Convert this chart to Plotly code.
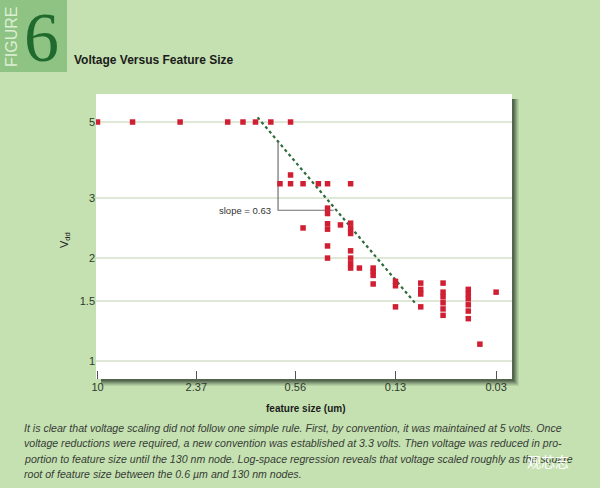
import numpy as np
import plotly.graph_objects as go

# ---------------- data ----------------
feature_um = [10, 6, 3, 1.5, 1.2, 1.0, 0.8, 0.6,
              0.7, 0.6, 0.5, 0.4, 0.35, 0.25,
              0.6,
              0.35, 0.35, 0.35, 0.35, 0.35, 0.35,
              0.5, 0.29,
              0.25, 0.25, 0.25, 0.25, 0.25, 0.25, 0.25,
              0.22,
              0.18, 0.18, 0.18, 0.18,
              0.13, 0.13, 0.13,
              0.09, 0.09, 0.09, 0.09,
              0.065, 0.065, 0.065, 0.065, 0.065, 0.065,
              0.045, 0.045, 0.045, 0.045, 0.045, 0.045,
              0.038, 0.03]
vdd_v = [5, 5, 5, 5, 5, 5, 5, 5,
         3.3, 3.3, 3.3, 3.3, 3.3, 3.3,
         3.5,
         2.8, 2.7, 2.52, 2.43, 2.17, 2.0,
         2.45, 2.5,
         2.53, 2.44, 2.36, 2.1, 2.0, 1.93, 1.87,
         1.87,
         1.87, 1.83, 1.78, 1.68,
         1.71, 1.66, 1.44,
         1.69, 1.62, 1.57, 1.44,
         1.69, 1.59, 1.54, 1.48, 1.42, 1.36,
         1.62, 1.57, 1.52, 1.46, 1.40, 1.33,
         1.12, 1.59]

fit_x = [0.97, 0.098]
fit_y = [5.16, 1.48]
tri_x = [0.72, 0.72, 0.32]
tri_y = [4.38, 2.76, 2.76]
slope_label = "slope = 0.63"

x_ticks = [10, 2.37, 0.56, 0.13, 0.03]
x_tick_text = ["10", "2.37", "0.56", "0.13", "0.03"]
y_ticks = [1, 1.5, 2, 3, 5]
y_tick_text = ["1", "1.5", "2", "3", "5"]

caption_lines = [
    "It is clear that voltage scaling did not follow one simple rule. First, by convention, it was maintained at 5 volts. Once",
    "voltage reductions were required, a new convention was established at 3.3 volts. Then voltage was reduced in pro-",
    "portion to feature size until the 130 nm node. Log-space regression reveals that voltage scaled roughly as the square",
    "root of feature size between the 0.6 \u00b5m and 130 nm nodes.",
]

# ---------------- layout geometry ----------------
W, H = 600, 488
L, R, T, B = 96, 512, 94, 379
PW, PH = R - L, B - T


def px(x):
    return (x - L) / PW


def py(y):
    return (B - y) / PH


BG = "#c5e1b1"
BOX = "#8fc383"
TXT = "#2e3a2e"
SANS = "Liberation Sans, Arial, sans-serif"

fig = go.Figure()
fig.add_trace(go.Scatter(x=fit_x, y=fit_y, mode="lines",
                         line=dict(color="#2f6b3a", width=2.2, dash="dot"),
                         hoverinfo="skip", showlegend=False))
fig.add_trace(go.Scatter(x=tri_x, y=tri_y, mode="lines",
                         line=dict(color="#707070", width=1.2),
                         hoverinfo="skip", showlegend=False))
fig.add_trace(go.Scatter(x=feature_um, y=vdd_v, mode="markers",
                         marker=dict(symbol="square", size=5.5, color="#d01f32"),
                         showlegend=False))

shapes = []
# drop shadow of plot panel
for k, op in [(7, 0.10), (6, 0.12), (5, 0.15), (4, 0.2), (3, 0.25), (2, 0.3)]:
    shapes.append(dict(type="rect", xref="paper", yref="paper", layer="below",
                       x0=px(L + 5), x1=px(R + k), y0=py(B + k), y1=py(T + 5),
                       fillcolor=f"rgba(40,55,40,{op})", line=dict(width=0)))
shapes.append(dict(type="rect", xref="paper", yref="paper", layer="below",
                   x0=0, x1=1, y0=0, y1=1, fillcolor="white", line=dict(width=0)))
# FIGURE box
shapes.append(dict(type="rect", xref="paper", yref="paper", layer="below",
                   x0=px(0), x1=px(67), y0=py(72), y1=py(0),
                   fillcolor=BOX, line=dict(width=0)))

ann = []
ann.append(dict(xref="paper", yref="paper", x=px(11), y=py(37), text="FIGURE",
                textangle=-90, showarrow=False, xanchor="center", yanchor="middle",
                font=dict(family=SANS, size=16, color="#dcefd3")))
ann.append(dict(xref="paper", yref="paper", x=px(42), y=py(37), text="6",
                showarrow=False, xanchor="center", yanchor="middle",
                font=dict(family="Liberation Serif, DejaVu Serif, serif", size=70, color="#1f6a2c")))
ann.append(dict(xref="paper", yref="paper", x=px(72), y=py(60),
                text="<b>Voltage Versus Feature Size</b>", showarrow=False,
                xanchor="left", yanchor="middle",
                font=dict(family=SANS, size=12, color="#1b1b1b")))
ann.append(dict(xref="paper", yref="paper", x=px(65), y=py(240),
                text="V<sub>dd</sub>", textangle=-90, showarrow=False,
                xanchor="center", yanchor="middle",
                font=dict(family=SANS, size=11, color="#1b1b1b")))
ann.append(dict(xref="paper", yref="paper", x=px(305), y=py(409),
                text="<b>feature size (um)</b>", showarrow=False,
                xanchor="center", yanchor="middle",
                font=dict(family=SANS, size=10, color="#1b1b1b")))
ann.append(dict(xref="x", yref="y", x=np.log10(tri_x[0]), y=np.log10(tri_y[1]),
                text=slope_label, showarrow=False, xanchor="right", yanchor="middle",
                xshift=-5, font=dict(family=SANS, size=9.5, color="#333333")))
for i, line in enumerate(caption_lines):
    ann.append(dict(xref="paper", yref="paper", x=px(22), y=py(428 + i * 15.4),
                    text="<i>" + line + "</i>", showarrow=False,
                    xanchor="left", yanchor="middle",
                    font=dict(family=SANS, size=10.6, color="#363c36")))
ann.append(dict(xref="paper", yref="paper", x=px(548), y=py(461), text="观芯志",
                showarrow=False, xanchor="center", yanchor="middle",
                font=dict(family="Noto Sans CJK SC", size=14, color="white")))

x_lo = -0.2576 + (296.2 - L) / 158.0
x_hi = -0.2576 - (R - 296.2) / 158.0
y_lo = -(B - 361) / 341.9
y_hi = (361 - T) / 341.9

fig.update_layout(
    width=W, height=H,
    margin=dict(l=L, r=W - R, t=T, b=H - B, pad=0),
    paper_bgcolor=BG, plot_bgcolor="rgba(0,0,0,0)",
    shapes=shapes, annotations=ann,
    xaxis=dict(type="log", range=[x_lo, x_hi], tickvals=x_ticks, ticktext=x_tick_text,
               ticks="inside", ticklen=8, tickcolor="#555555", tickwidth=1,
               showgrid=False, zeroline=False, showline=False,
               tickfont=dict(family=SANS, size=11, color=TXT)),
    yaxis=dict(type="log", range=[y_lo, y_hi], tickvals=y_ticks, ticktext=y_tick_text,
               ticks="", showgrid=True, gridcolor="#dfe7d6", gridwidth=1.5,
               zeroline=False, showline=False,
               tickfont=dict(family=SANS, size=11, color=TXT)),
)

fig.write_html("out.html", config={"displayModeBar": False},
               post_script="document.body.style.margin='0';document.body.style.overflow='hidden';")
